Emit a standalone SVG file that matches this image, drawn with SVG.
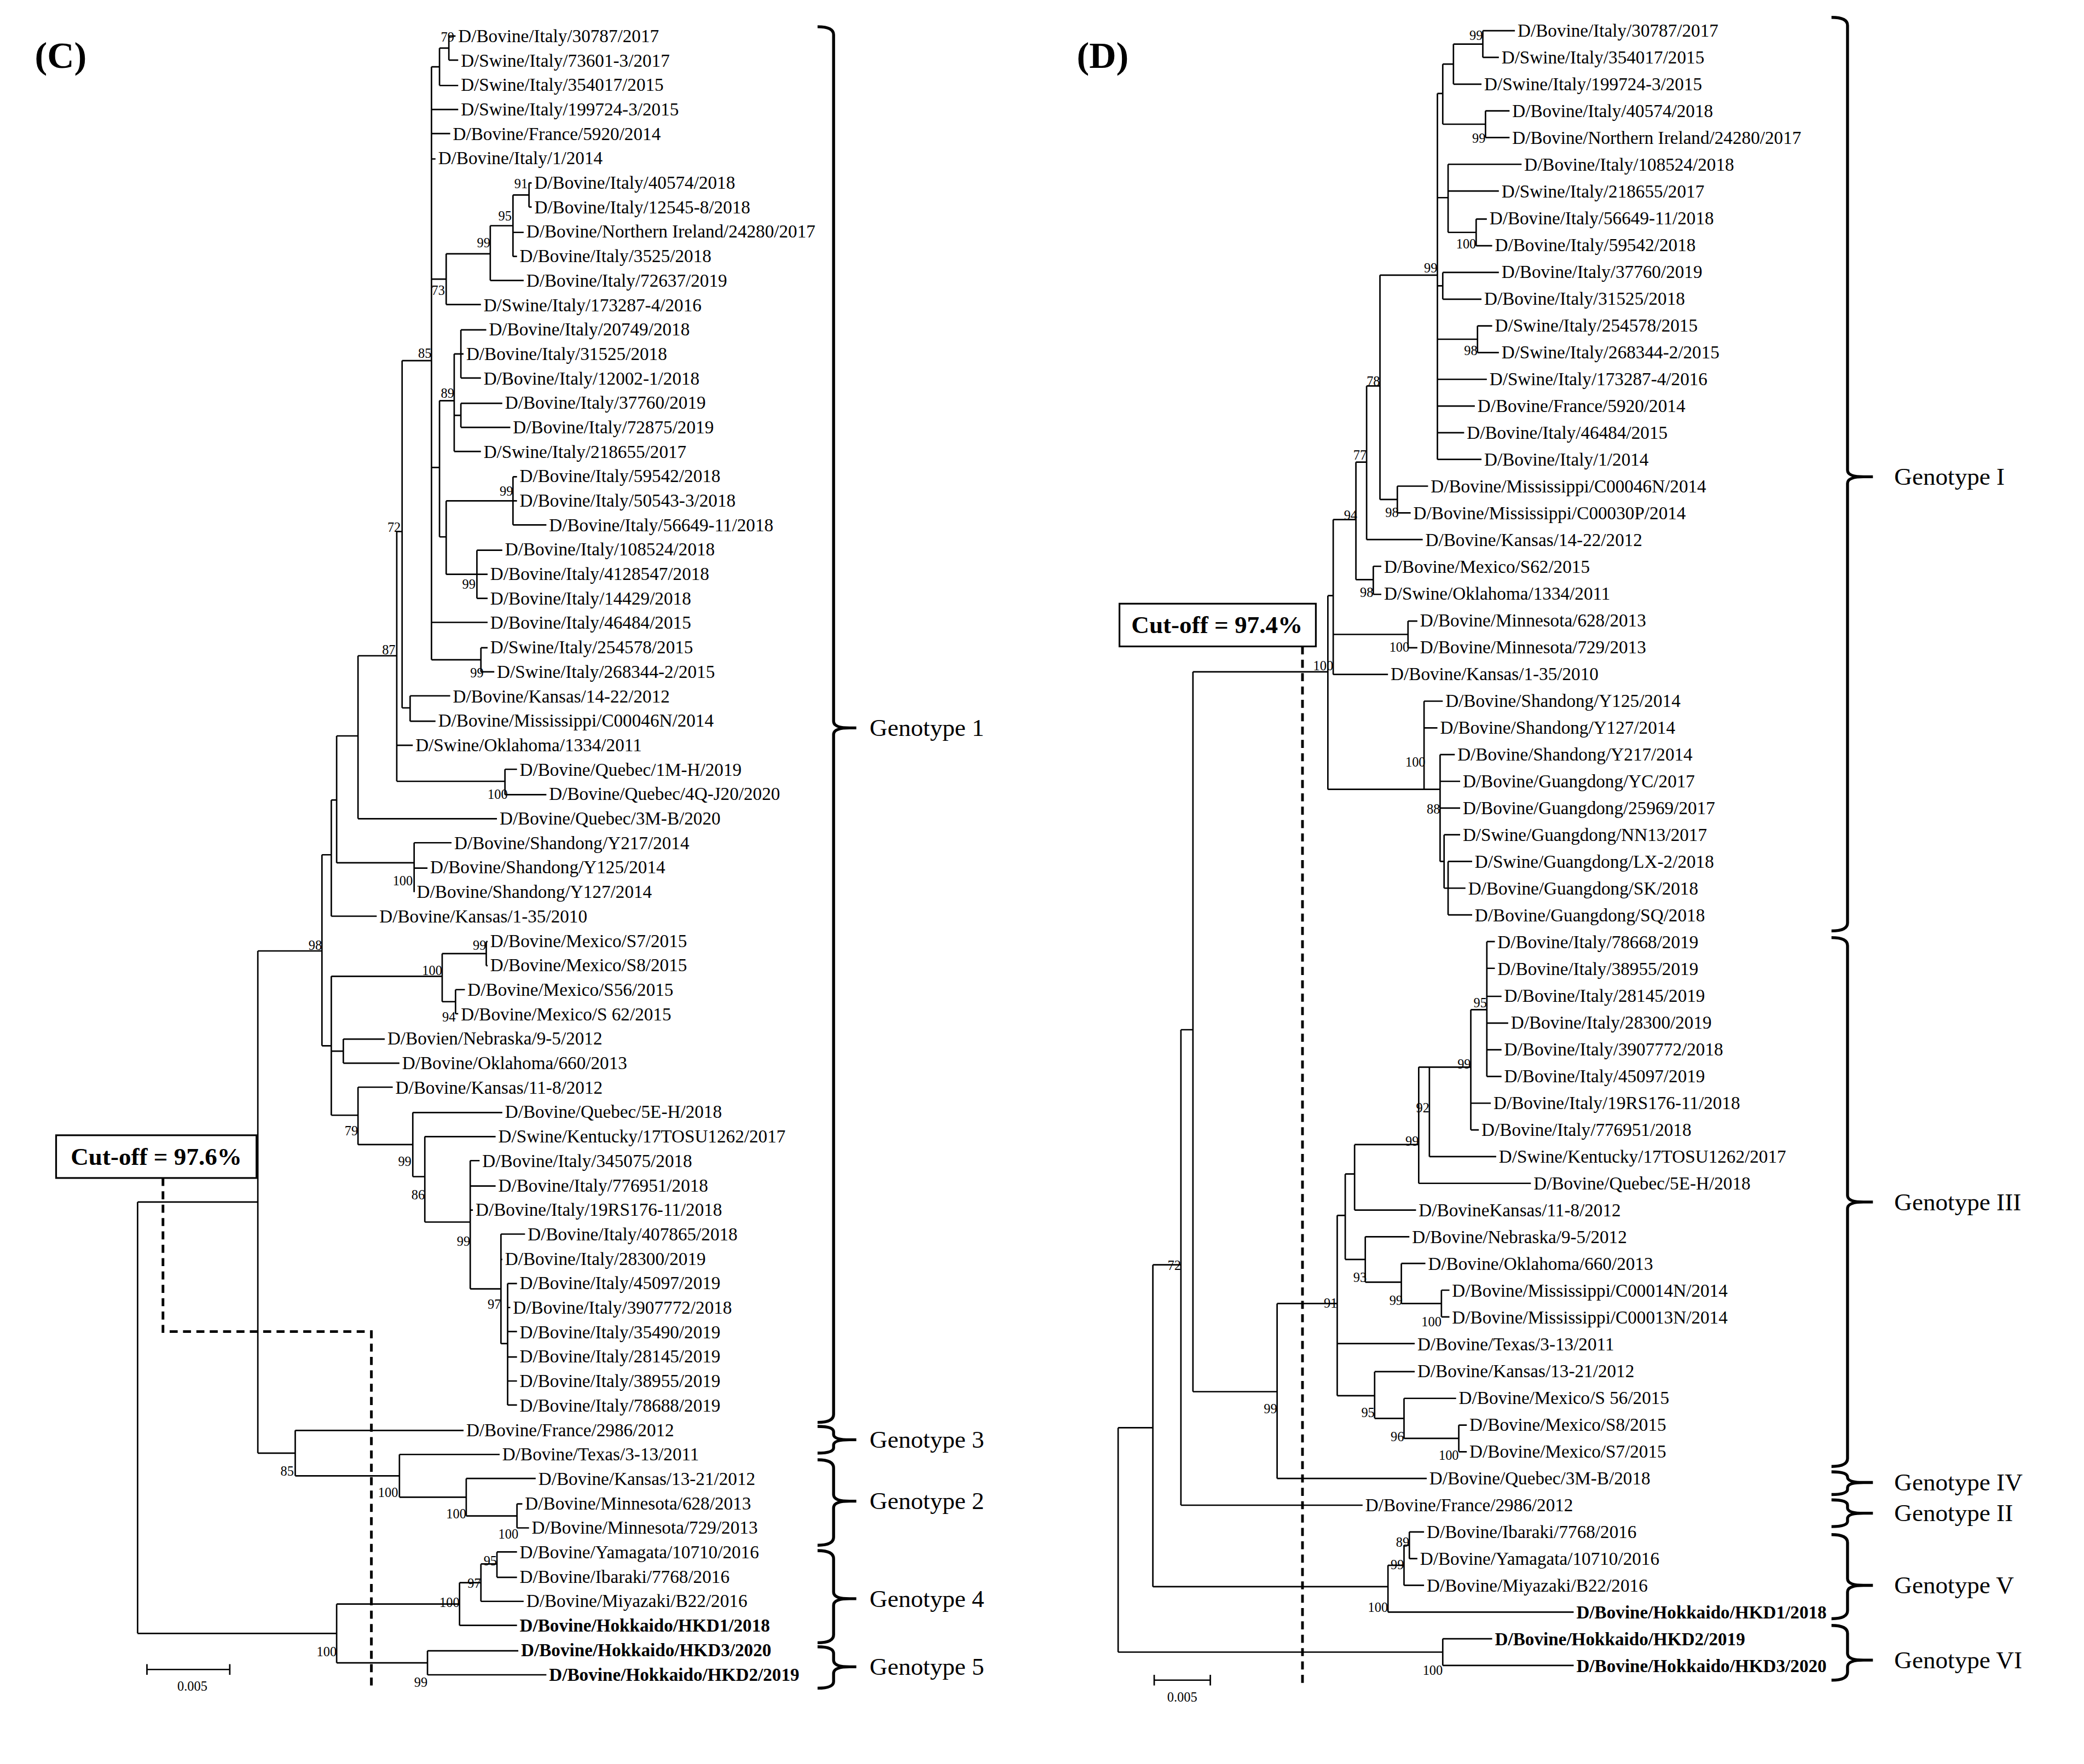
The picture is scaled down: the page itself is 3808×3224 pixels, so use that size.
<svg xmlns="http://www.w3.org/2000/svg" width="3808" height="3224" viewBox="0 0 3808 3224">
<style>
.t{font-family:"Liberation Serif",serif;font-size:13.6px;fill:#000}
.b{font-weight:bold}
.bs{font-family:"Liberation Serif",serif;font-size:10px;fill:#000;text-anchor:end}
.g{font-family:"Liberation Serif",serif;font-size:18.5px;fill:#000}
.br{fill:none;stroke:#000;stroke-width:2.2}
.ln{fill:none;stroke:#000;stroke-width:1.1}
.ds{fill:none;stroke:#000;stroke-width:2;stroke-dasharray:6 4}
</style>
<rect width="3808" height="3224" fill="#fff"/>
<g transform="scale(2.441)">
<text x="26" y="51" style="font-family:'Liberation Serif',serif;font-size:28px;font-weight:bold">(C)</text>
<text x="806" y="51" style="font-family:'Liberation Serif',serif;font-size:28px;font-weight:bold">(D)</text>
<g id="connectors">
<path class="ln" d="M336 27V45M336 27H341M336 45H343M329 36V64M329 36H336M329 64H343M323 50V494M323 50H329M323 82H343M323 100H337M323 119H326M396 137V155M396 137H398M396 155H398M384 146V192M384 146H396M384 174H392M384 192H387M367 169V210M367 169H384M367 210H392M334 190V228M334 190H367M334 228H360M323 209H334M345 247V283M345 247H364M345 265H347M345 283H360M345 302V320M345 302H376M345 320H382M340 265V338M340 265H345M340 311H345M340 338H360M384 357V393M384 357H387M384 375H387M384 393H409M357 412V448M357 412H376M357 430H365M357 448H365M334 375V430M334 375H384M334 430H357M329 300V402M329 300H340M329 402H334M323 350H329M323 466H365M360 485V503M360 485H365M360 503H370M323 494H360M301 270V530M301 270H323M307 521V540M307 521H337M307 540H326M301 530H307M378 576V595M378 576H387M378 595H409M297 398V585M297 398H301M297 558H309M297 585H378M268 491V613M268 491H297M268 613H372M310 631V668M310 631H338M310 650H320M252 646H310M252 551V646M252 551H268M248 599V686M248 599H252M248 686H282M364 705V723M364 705H365M364 723H365M341 741V759M341 741H348M341 759H343M331 714V750M331 714H364M331 750H341M248 731H331M257 778V796M257 778H288M257 796H299M248 787H257M380 961V1052M380 961H387M380 979H382M380 997H387M380 1016H387M380 1034H387M380 1052H387M375 924V1006M375 924H393M375 943H376M375 1006H380M352 869V965M352 869H359M352 888H371M352 906H354M352 965H375M318 851V915M318 851H371M318 915H352M309 833V881M309 833H376M309 881H318M268 814V857M268 814H294M268 857H309M248 731V835M248 835H268M241 640V783M241 640H248M241 783H248M387 1126V1144M387 1126H391M387 1144H396M349 1107V1135M349 1107H401M349 1135H387M299 1089V1121M299 1089H374M299 1121H349M221 1071V1105M221 1071H347M221 1105H299M193 712V1088M193 712H241M193 1088H221M372 1162V1181M372 1162H387M372 1181H387M360 1171V1199M360 1171H372M360 1199H392M344 1185V1217M344 1185H360M344 1217H387M320 1236V1254M320 1236H388M320 1254H409M252 1201V1245M252 1201H344M252 1245H320M103 900V1223M103 900H193M103 1223H252"/>
<path class="ln" d="M1110 23V43M1110 23H1134M1110 43H1122M1088 33V63M1088 33H1110M1088 63H1109M1112 83V103M1112 83H1130M1112 103H1130M1080 48V93M1080 48H1088M1080 93H1112M1105 164V184M1105 164H1113M1105 184H1117M1084 123V174M1084 123H1139M1084 143H1122M1084 174H1105M1080 204V224M1080 204H1122M1080 224H1109M1106 244V264M1106 244H1117M1106 264H1122M1076 70V344M1076 70H1080M1076 148H1084M1076 214H1080M1076 254H1106M1076 284H1113M1076 304H1104M1076 324H1096M1076 344H1109M1046 364V384M1046 364H1069M1046 384H1056M1033 206V374M1033 206H1076M1033 374H1046M1023 289V404M1023 289H1033M1023 404H1065M1028 424V445M1028 424H1034M1028 445H1034M1015 346V434M1015 346H1023M1015 434H1028M1054 465V485M1054 465H1061M1054 485H1061M998 389V505M998 389H1015M998 475H1054M998 505H1039M1084 645V685M1084 645H1102M1084 665H1097M1084 685H1102M1081 625V665M1081 625H1093M1081 665H1084M1078 565V645M1078 565H1089M1078 585H1093M1078 605H1093M1078 645H1081M1066 525V591M1066 525H1080M1066 545H1076M1066 591H1078M994 446V591M994 446H998M994 591H1066M1113 705V806M1113 705H1119M1113 725H1119M1113 746H1124M1113 766H1129M1113 786H1124M1113 806H1124M1101 756V846M1101 756H1113M1101 826H1116M1101 846H1107M1070 799V866M1070 799H1101M1070 866H1120M1062 799V886M1062 799H1070M1062 886H1146M1014 857V906M1014 857H1062M1014 906H1060M1079 966V986M1079 966H1085M1079 986H1085M1049 946V976M1049 946H1067M1049 976H1079M1022 926V960M1022 926H1055M1022 960H1049M1007 879V943M1007 879H1014M1007 943H1022M1092 1067V1087M1092 1067H1098M1092 1087H1098M1051 1047V1077M1051 1047H1090M1051 1077H1092M1029 1027V1062M1029 1027H1059M1029 1062H1051M1001 910V1045M1001 910H1007M1001 1006H1059M1001 1045H1029M956 976V1107M956 976H1001M956 1107H1068M893 503V1042M893 503H994M893 1042H956M884 771V1127M884 771H893M884 1127H1020M1055 1147V1167M1055 1147H1066M1055 1167H1061M1051 1157V1187M1051 1157H1055M1051 1187H1066M1039 1172V1207M1039 1172H1051M1039 1207H1178M863 947V1188M863 947H884M863 1188H1039M1080 1227V1247M1080 1227H1117M1080 1247H1178M837 1069V1237M837 1069H863M837 1237H1080"/>
<path class="ds" d="M122 882V997H278V1265"/>
<path class="ds" d="M975 484V1262"/>
<path class="ln" d="M110 1250H172M110 1246V1254M172 1246V1254M864 1258H906M864 1254V1262M906 1254V1262"/>
<path class="br" d="M612 20Q624 20 624 26V540Q624 545 636 545Q624 545 624 550V1059Q624 1065 612 1065M636 545H641M612 1068Q624 1068 624 1072V1074Q624 1078 636 1078Q624 1078 624 1082V1084Q624 1088 612 1088M636 1078H641M612 1093Q624 1093 624 1099V1119Q624 1124 636 1124Q624 1124 624 1129V1151Q624 1157 612 1157M636 1124H641M612 1161Q624 1161 624 1167V1192Q624 1197 636 1197Q624 1197 624 1202V1224Q624 1230 612 1230M636 1197H641M612 1233Q624 1233 624 1238V1243Q624 1248 636 1248Q624 1248 624 1253V1259Q624 1264 612 1264M636 1248H641"/>
<path class="br" d="M1371 13Q1383 13 1383 19V352Q1383 357 1395 357Q1383 357 1383 362V691Q1383 697 1371 697M1395 357H1402M1371 702Q1383 702 1383 708V895Q1383 900 1395 900Q1383 900 1383 905V1092Q1383 1098 1371 1098M1395 900H1402M1371 1102Q1383 1102 1383 1106Q1383 1110 1395 1110Q1383 1110 1383 1114V1115Q1383 1119 1371 1119M1395 1110H1402M1371 1123Q1383 1123 1383 1127V1129Q1383 1133 1395 1133Q1383 1133 1383 1137V1139Q1383 1143 1371 1143M1395 1133H1402M1371 1149Q1383 1149 1383 1155V1182Q1383 1187 1395 1187Q1383 1187 1383 1192V1206Q1383 1212 1371 1212M1395 1187H1402M1371 1217Q1383 1217 1383 1223V1238Q1383 1243 1395 1243Q1383 1243 1383 1248V1252Q1383 1258 1371 1258M1395 1243H1402"/>
</g>
<g id="cutoffC"><rect x="42" y="850" width="150" height="32" fill="#fff" stroke="#000" stroke-width="1.3"/><text x="117" y="872" text-anchor="middle" style="font-family:'Liberation Serif',serif;font-size:18.5px;font-weight:bold">Cut-off = 97.6%</text></g>
<g id="cutoffD"><rect x="838" y="452" width="147" height="32" fill="#fff" stroke="#000" stroke-width="1.3"/><text x="911" y="474" text-anchor="middle" style="font-family:'Liberation Serif',serif;font-size:18.5px;font-weight:bold">Cut-off = 97.4%</text></g>
<g id="scales"><text x="144" y="1266" class="bs" style="text-anchor:middle">0.005</text><text x="885" y="1274" class="bs" style="text-anchor:middle">0.005</text></g>
<g id="genotypes">
<text class="g" x="651" y="551">Genotype 1</text><text class="g" x="651" y="1084">Genotype 3</text><text class="g" x="651" y="1130">Genotype 2</text><text class="g" x="651" y="1203">Genotype 4</text><text class="g" x="651" y="1254">Genotype 5</text>
<text class="g" x="1418" y="363">Genotype I</text><text class="g" x="1418" y="906">Genotype III</text><text class="g" x="1418" y="1116">Genotype IV</text><text class="g" x="1418" y="1139">Genotype II</text><text class="g" x="1418" y="1193">Genotype V</text><text class="g" x="1418" y="1249">Genotype VI</text>
</g>
<g id="bootstrap">
<text class="bs" x="340" y="31">79</text><text class="bs" x="395" y="141">91</text><text class="bs" x="383" y="165">95</text><text class="bs" x="367" y="185">99</text><text class="bs" x="333" y="221">73</text><text class="bs" x="323" y="268">85</text><text class="bs" x="340" y="298">89</text><text class="bs" x="384" y="371">99</text><text class="bs" x="300" y="398">72</text><text class="bs" x="356" y="441">99</text><text class="bs" x="296" y="490">87</text><text class="bs" x="362" y="507">99</text><text class="bs" x="380" y="598">100</text><text class="bs" x="309" y="663">100</text><text class="bs" x="241" y="711">98</text><text class="bs" x="364" y="711">99</text><text class="bs" x="331" y="730">100</text><text class="bs" x="341" y="765">94</text><text class="bs" x="268" y="850">79</text><text class="bs" x="308" y="873">99</text><text class="bs" x="318" y="898">86</text><text class="bs" x="352" y="933">99</text><text class="bs" x="375" y="980">97</text><text class="bs" x="220" y="1105">85</text><text class="bs" x="298" y="1121">100</text><text class="bs" x="349" y="1137">100</text><text class="bs" x="388" y="1152">100</text><text class="bs" x="372" y="1172">95</text><text class="bs" x="360" y="1189">97</text><text class="bs" x="344" y="1203">100</text><text class="bs" x="252" y="1240">100</text><text class="bs" x="320" y="1263">99</text>
<text class="bs" x="1110" y="30">99</text><text class="bs" x="1112" y="107">99</text><text class="bs" x="1105" y="186">100</text><text class="bs" x="1076" y="204">99</text><text class="bs" x="1106" y="266">98</text><text class="bs" x="1033" y="289">78</text><text class="bs" x="1023" y="344">77</text><text class="bs" x="1047" y="387">98</text><text class="bs" x="1016" y="389">94</text><text class="bs" x="1028" y="447">98</text><text class="bs" x="1055" y="488">100</text><text class="bs" x="998" y="502">100</text><text class="bs" x="1067" y="574">100</text><text class="bs" x="1078" y="609">88</text><text class="bs" x="1113" y="754">95</text><text class="bs" x="1101" y="800">99</text><text class="bs" x="1070" y="833">92</text><text class="bs" x="1062" y="858">99</text><text class="bs" x="1023" y="960">93</text><text class="bs" x="1050" y="977">99</text><text class="bs" x="1079" y="993">100</text><text class="bs" x="1001" y="979">91</text><text class="bs" x="884" y="951">72</text><text class="bs" x="956" y="1058">99</text><text class="bs" x="1029" y="1061">95</text><text class="bs" x="1051" y="1079">96</text><text class="bs" x="1092" y="1093">100</text><text class="bs" x="1055" y="1158">89</text><text class="bs" x="1051" y="1175">99</text><text class="bs" x="1039" y="1207">100</text><text class="bs" x="1080" y="1254">100</text>
</g>
<g id="c1"><text class="t" x="343" y="31.5">D/Bovine/Italy/30787/2017</text></g>
<g id="c2"><text class="t" x="345" y="49.8">D/Swine/Italy/73601-3/2017</text></g>
<g id="c3"><text class="t" x="345" y="68.1">D/Swine/Italy/354017/2015</text></g>
<g id="c4"><text class="t" x="345" y="86.4">D/Swine/Italy/199724-3/2015</text></g>
<g id="c5"><text class="t" x="339" y="104.7">D/Bovine/France/5920/2014</text></g>
<g id="c6"><text class="t" x="328" y="123.1">D/Bovine/Italy/1/2014</text></g>
<g id="c7"><text class="t" x="400" y="141.4">D/Bovine/Italy/40574/2018</text></g>
<g id="c8"><text class="t" x="400" y="159.7">D/Bovine/Italy/12545-8/2018</text></g>
<g id="c9"><text class="t" x="394" y="178">D/Bovine/Northern Ireland/24280/2017</text></g>
<g id="c10"><text class="t" x="389" y="196.3">D/Bovine/Italy/3525/2018</text></g>
<g id="c11"><text class="t" x="394" y="214.6">D/Bovine/Italy/72637/2019</text></g>
<g id="c12"><text class="t" x="362" y="232.9">D/Swine/Italy/173287-4/2016</text></g>
<g id="c13"><text class="t" x="366" y="251.2">D/Bovine/Italy/20749/2018</text></g>
<g id="c14"><text class="t" x="349" y="269.5">D/Bovine/Italy/31525/2018</text></g>
<g id="c15"><text class="t" x="362" y="287.8">D/Bovine/Italy/12002-1/2018</text></g>
<g id="c16"><text class="t" x="378" y="306.2">D/Bovine/Italy/37760/2019</text></g>
<g id="c17"><text class="t" x="384" y="324.5">D/Bovine/Italy/72875/2019</text></g>
<g id="c18"><text class="t" x="362" y="342.8">D/Swine/Italy/218655/2017</text></g>
<g id="c19"><text class="t" x="389" y="361.1">D/Bovine/Italy/59542/2018</text></g>
<g id="c20"><text class="t" x="389" y="379.4">D/Bovine/Italy/50543-3/2018</text></g>
<g id="c21"><text class="t" x="411" y="397.7">D/Bovine/Italy/56649-11/2018</text></g>
<g id="c22"><text class="t" x="378" y="416">D/Bovine/Italy/108524/2018</text></g>
<g id="c23"><text class="t" x="367" y="434.3">D/Bovine/Italy/4128547/2018</text></g>
<g id="c24"><text class="t" x="367" y="452.6">D/Bovine/Italy/14429/2018</text></g>
<g id="c25"><text class="t" x="367" y="470.9">D/Bovine/Italy/46484/2015</text></g>
<g id="c26"><text class="t" x="367" y="489.3">D/Swine/Italy/254578/2015</text></g>
<g id="c27"><text class="t" x="372" y="507.6">D/Swine/Italy/268344-2/2015</text></g>
<g id="c28"><text class="t" x="339" y="525.9">D/Bovine/Kansas/14-22/2012</text></g>
<g id="c29"><text class="t" x="328" y="544.2">D/Bovine/Mississippi/C00046N/2014</text></g>
<g id="c30"><text class="t" x="311" y="562.5">D/Swine/Oklahoma/1334/2011</text></g>
<g id="c31"><text class="t" x="389" y="580.8">D/Bovine/Quebec/1M-H/2019</text></g>
<g id="c32"><text class="t" x="411" y="599.1">D/Bovine/Quebec/4Q-J20/2020</text></g>
<g id="c33"><text class="t" x="374" y="617.4">D/Bovine/Quebec/3M-B/2020</text></g>
<g id="c34"><text class="t" x="340" y="635.7">D/Bovine/Shandong/Y217/2014</text></g>
<g id="c35"><text class="t" x="322" y="654">D/Bovine/Shandong/Y125/2014</text></g>
<g id="c36"><text class="t" x="312" y="672.4">D/Bovine/Shandong/Y127/2014</text></g>
<g id="c37"><text class="t" x="284" y="690.7">D/Bovine/Kansas/1-35/2010</text></g>
<g id="c38"><text class="t" x="367" y="709">D/Bovine/Mexico/S7/2015</text></g>
<g id="c39"><text class="t" x="367" y="727.3">D/Bovine/Mexico/S8/2015</text></g>
<g id="c40"><text class="t" x="350" y="745.6">D/Bovine/Mexico/S56/2015</text></g>
<g id="c41"><text class="t" x="345" y="763.9">D/Bovine/Mexico/S 62/2015</text></g>
<g id="c42"><text class="t" x="290" y="782.2">D/Bovien/Nebraska/9-5/2012</text></g>
<g id="c43"><text class="t" x="301" y="800.5">D/Bovine/Oklahoma/660/2013</text></g>
<g id="c44"><text class="t" x="296" y="818.8">D/Bovine/Kansas/11-8/2012</text></g>
<g id="c45"><text class="t" x="378" y="837.1">D/Bovine/Quebec/5E-H/2018</text></g>
<g id="c46"><text class="t" x="373" y="855.5">D/Swine/Kentucky/17TOSU1262/2017</text></g>
<g id="c47"><text class="t" x="361" y="873.8">D/Bovine/Italy/345075/2018</text></g>
<g id="c48"><text class="t" x="373" y="892.1">D/Bovine/Italy/776951/2018</text></g>
<g id="c49"><text class="t" x="356" y="910.4">D/Bovine/Italy/19RS176-11/2018</text></g>
<g id="c50"><text class="t" x="395" y="928.7">D/Bovine/Italy/407865/2018</text></g>
<g id="c51"><text class="t" x="378" y="947">D/Bovine/Italy/28300/2019</text></g>
<g id="c52"><text class="t" x="389" y="965.3">D/Bovine/Italy/45097/2019</text></g>
<g id="c53"><text class="t" x="384" y="983.6">D/Bovine/Italy/3907772/2018</text></g>
<g id="c54"><text class="t" x="389" y="1001.9">D/Bovine/Italy/35490/2019</text></g>
<g id="c55"><text class="t" x="389" y="1020.2">D/Bovine/Italy/28145/2019</text></g>
<g id="c56"><text class="t" x="389" y="1038.6">D/Bovine/Italy/38955/2019</text></g>
<g id="c57"><text class="t" x="389" y="1056.9">D/Bovine/Italy/78688/2019</text></g>
<g id="c58"><text class="t" x="349" y="1075.2">D/Bovine/France/2986/2012</text></g>
<g id="c59"><text class="t" x="376" y="1093.5">D/Bovine/Texas/3-13/2011</text></g>
<g id="c60"><text class="t" x="403" y="1111.8">D/Bovine/Kansas/13-21/2012</text></g>
<g id="c61"><text class="t" x="393" y="1130.1">D/Bovine/Minnesota/628/2013</text></g>
<g id="c62"><text class="t" x="398" y="1148.4">D/Bovine/Minnesota/729/2013</text></g>
<g id="c63"><text class="t" x="389" y="1166.7">D/Bovine/Yamagata/10710/2016</text></g>
<g id="c64"><text class="t" x="389" y="1185">D/Bovine/Ibaraki/7768/2016</text></g>
<g id="c65"><text class="t" x="394" y="1203.3">D/Bovine/Miyazaki/B22/2016</text></g>
<g id="c66"><text class="t b" x="389" y="1221.7">D/Bovine/Hokkaido/HKD1/2018</text></g>
<g id="c67"><text class="t b" x="390" y="1240">D/Bovine/Hokkaido/HKD3/2020</text></g>
<g id="c68"><text class="t b" x="411" y="1258.3">D/Bovine/Hokkaido/HKD2/2019</text></g>
<g id="d1"><text class="t" x="1136" y="27.5">D/Bovine/Italy/30787/2017</text></g>
<g id="d2"><text class="t" x="1124" y="47.6">D/Swine/Italy/354017/2015</text></g>
<g id="d3"><text class="t" x="1111" y="67.6">D/Swine/Italy/199724-3/2015</text></g>
<g id="d4"><text class="t" x="1132" y="87.7">D/Bovine/Italy/40574/2018</text></g>
<g id="d5"><text class="t" x="1132" y="107.8">D/Bovine/Northern Ireland/24280/2017</text></g>
<g id="d6"><text class="t" x="1141" y="127.9">D/Bovine/Italy/108524/2018</text></g>
<g id="d7"><text class="t" x="1124" y="147.9">D/Swine/Italy/218655/2017</text></g>
<g id="d8"><text class="t" x="1115" y="168">D/Bovine/Italy/56649-11/2018</text></g>
<g id="d9"><text class="t" x="1119" y="188.1">D/Bovine/Italy/59542/2018</text></g>
<g id="d10"><text class="t" x="1124" y="208.1">D/Bovine/Italy/37760/2019</text></g>
<g id="d11"><text class="t" x="1111" y="228.2">D/Bovine/Italy/31525/2018</text></g>
<g id="d12"><text class="t" x="1119" y="248.3">D/Swine/Italy/254578/2015</text></g>
<g id="d13"><text class="t" x="1124" y="268.3">D/Swine/Italy/268344-2/2015</text></g>
<g id="d14"><text class="t" x="1115" y="288.4">D/Swine/Italy/173287-4/2016</text></g>
<g id="d15"><text class="t" x="1106" y="308.5">D/Bovine/France/5920/2014</text></g>
<g id="d16"><text class="t" x="1098" y="328.6">D/Bovine/Italy/46484/2015</text></g>
<g id="d17"><text class="t" x="1111" y="348.6">D/Bovine/Italy/1/2014</text></g>
<g id="d18"><text class="t" x="1071" y="368.7">D/Bovine/Mississippi/C00046N/2014</text></g>
<g id="d19"><text class="t" x="1058" y="388.8">D/Bovine/Mississippi/C00030P/2014</text></g>
<g id="d20"><text class="t" x="1067" y="408.8">D/Bovine/Kansas/14-22/2012</text></g>
<g id="d21"><text class="t" x="1036" y="428.9">D/Bovine/Mexico/S62/2015</text></g>
<g id="d22"><text class="t" x="1036" y="449">D/Swine/Oklahoma/1334/2011</text></g>
<g id="d23"><text class="t" x="1063" y="469">D/Bovine/Minnesota/628/2013</text></g>
<g id="d24"><text class="t" x="1063" y="489.1">D/Bovine/Minnesota/729/2013</text></g>
<g id="d25"><text class="t" x="1041" y="509.2">D/Bovine/Kansas/1-35/2010</text></g>
<g id="d26"><text class="t" x="1082" y="529.3">D/Bovine/Shandong/Y125/2014</text></g>
<g id="d27"><text class="t" x="1078" y="549.3">D/Bovine/Shandong/Y127/2014</text></g>
<g id="d28"><text class="t" x="1091" y="569.4">D/Bovine/Shandong/Y217/2014</text></g>
<g id="d29"><text class="t" x="1095" y="589.5">D/Bovine/Guangdong/YC/2017</text></g>
<g id="d30"><text class="t" x="1095" y="609.5">D/Bovine/Guangdong/25969/2017</text></g>
<g id="d31"><text class="t" x="1095" y="629.6">D/Swine/Guangdong/NN13/2017</text></g>
<g id="d32"><text class="t" x="1104" y="649.7">D/Swine/Guangdong/LX-2/2018</text></g>
<g id="d33"><text class="t" x="1099" y="669.7">D/Bovine/Guangdong/SK/2018</text></g>
<g id="d34"><text class="t" x="1104" y="689.8">D/Bovine/Guangdong/SQ/2018</text></g>
<g id="d35"><text class="t" x="1121" y="709.9">D/Bovine/Italy/78668/2019</text></g>
<g id="d36"><text class="t" x="1121" y="730">D/Bovine/Italy/38955/2019</text></g>
<g id="d37"><text class="t" x="1126" y="750">D/Bovine/Italy/28145/2019</text></g>
<g id="d38"><text class="t" x="1131" y="770.1">D/Bovine/Italy/28300/2019</text></g>
<g id="d39"><text class="t" x="1126" y="790.2">D/Bovine/Italy/3907772/2018</text></g>
<g id="d40"><text class="t" x="1126" y="810.2">D/Bovine/Italy/45097/2019</text></g>
<g id="d41"><text class="t" x="1118" y="830.3">D/Bovine/Italy/19RS176-11/2018</text></g>
<g id="d42"><text class="t" x="1109" y="850.4">D/Bovine/Italy/776951/2018</text></g>
<g id="d43"><text class="t" x="1122" y="870.4">D/Swine/Kentucky/17TOSU1262/2017</text></g>
<g id="d44"><text class="t" x="1148" y="890.5">D/Bovine/Quebec/5E-H/2018</text></g>
<g id="d45"><text class="t" x="1062" y="910.6">D/BovineKansas/11-8/2012</text></g>
<g id="d46"><text class="t" x="1057" y="930.7">D/Bovine/Nebraska/9-5/2012</text></g>
<g id="d47"><text class="t" x="1069" y="950.7">D/Bovine/Oklahoma/660/2013</text></g>
<g id="d48"><text class="t" x="1087" y="970.8">D/Bovine/Mississippi/C00014N/2014</text></g>
<g id="d49"><text class="t" x="1087" y="990.9">D/Bovine/Mississippi/C00013N/2014</text></g>
<g id="d50"><text class="t" x="1061" y="1010.9">D/Bovine/Texas/3-13/2011</text></g>
<g id="d51"><text class="t" x="1061" y="1031">D/Bovine/Kansas/13-21/2012</text></g>
<g id="d52"><text class="t" x="1092" y="1051.1">D/Bovine/Mexico/S 56/2015</text></g>
<g id="d53"><text class="t" x="1100" y="1071.1">D/Bovine/Mexico/S8/2015</text></g>
<g id="d54"><text class="t" x="1100" y="1091.2">D/Bovine/Mexico/S7/2015</text></g>
<g id="d55"><text class="t" x="1070" y="1111.3">D/Bovine/Quebec/3M-B/2018</text></g>
<g id="d56"><text class="t" x="1022" y="1131.4">D/Bovine/France/2986/2012</text></g>
<g id="d57"><text class="t" x="1068" y="1151.4">D/Bovine/Ibaraki/7768/2016</text></g>
<g id="d58"><text class="t" x="1063" y="1171.5">D/Bovine/Yamagata/10710/2016</text></g>
<g id="d59"><text class="t" x="1068" y="1191.6">D/Bovine/Miyazaki/B22/2016</text></g>
<g id="d60"><text class="t b" x="1180" y="1211.6">D/Bovine/Hokkaido/HKD1/2018</text></g>
<g id="d61"><text class="t b" x="1119" y="1231.7">D/Bovine/Hokkaido/HKD2/2019</text></g>
<g id="d62"><text class="t b" x="1180" y="1251.8">D/Bovine/Hokkaido/HKD3/2020</text></g>
</g>
</svg>
